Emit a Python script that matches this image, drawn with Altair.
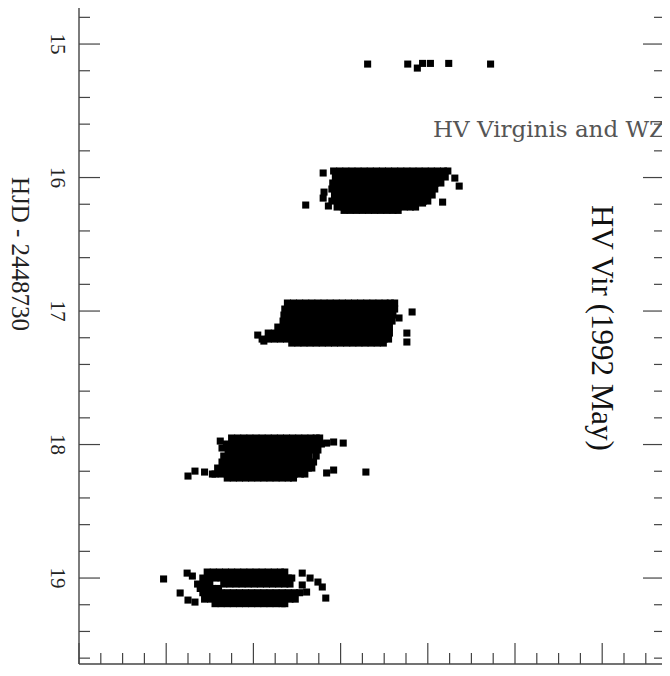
import altair as alt
import pandas as pd

# ---------------- axis tick values ----------------
y_major = [15, 16, 17, 18, 19]
y_major_labels = ["15", "16", "17", "18", "19"]
y_minor = [14.8, 15.2, 15.4, 15.6, 15.8, 16.2, 16.4, 16.6, 16.8, 17.2, 17.4,
           17.6, 17.8, 18.2, 18.4, 18.6, 18.8, 19.2, 19.4, 19.6]
x_major = [0, 1, 2, 3, 4, 5, 6]
x_minor = [0.25, 0.5, 0.75, 1.25, 1.5, 1.75, 2.25, 2.5, 2.75, 3.25, 3.5, 3.75,
           4.25, 4.5, 4.75, 5.25, 5.5, 5.75, 6.25, 6.5]

# ---------------- data ----------------
# night 1 (sparse)
n1_x = [3.31, 3.77, 3.88, 3.94, 4.03, 4.24, 4.72]
n1_hjd = [15.150, 15.150, 15.180, 15.145, 15.145, 15.145, 15.150]

# night 2
n2_row_hjd = [15.951, 15.996, 16.041, 16.086, 16.131, 16.176, 16.221, 16.246]
n2_row_x = [
    [2.92, 2.99, 3.06, 3.13, 3.20, 3.27, 3.34, 3.41, 3.48, 3.55, 3.62, 3.69, 3.76, 3.83, 3.90, 3.97, 4.04, 4.11, 4.18, 4.23],
    [2.94, 3.01, 3.08, 3.15, 3.22, 3.29, 3.36, 3.43, 3.50, 3.57, 3.64, 3.71, 3.78, 3.85, 3.92, 3.99, 4.06, 4.13, 4.20],
    [2.91, 2.98, 3.05, 3.12, 3.19, 3.26, 3.33, 3.40, 3.47, 3.54, 3.61, 3.68, 3.75, 3.82, 3.89, 3.96, 4.03, 4.09, 4.15],
    [2.90, 2.97, 3.04, 3.11, 3.18, 3.25, 3.32, 3.39, 3.46, 3.53, 3.60, 3.67, 3.74, 3.81, 3.88, 3.95, 4.02, 4.08],
    [2.93, 3.00, 3.07, 3.14, 3.21, 3.28, 3.35, 3.42, 3.49, 3.56, 3.63, 3.70, 3.77, 3.84, 3.91, 3.98, 4.05],
    [2.90, 2.97, 3.04, 3.11, 3.18, 3.25, 3.32, 3.39, 3.46, 3.53, 3.60, 3.67, 3.74, 3.81, 3.88, 3.95, 4.00],
    [2.96, 3.03, 3.10, 3.17, 3.24, 3.31, 3.38, 3.45, 3.52, 3.59, 3.66, 3.73, 3.80, 3.86],
    [3.04, 3.11, 3.18, 3.25, 3.32, 3.39, 3.46, 3.53, 3.60, 3.66],
]
n2_out_x = [2.60, 2.80, 2.81, 2.80, 2.86, 4.31, 4.36, 4.17, 3.94]
n2_out_hjd = [16.206, 15.966, 16.109, 16.154, 16.213, 16.004, 16.064, 16.184, 16.191]

# night 3
n3_row_hjd = [16.940, 16.985, 17.030, 17.075, 17.120, 17.165, 17.210, 17.240]
n3_row_x = [
    [2.39, 2.46, 2.53, 2.60, 2.67, 2.74, 2.81, 2.88, 2.95, 3.02, 3.09, 3.16, 3.23, 3.30, 3.37, 3.44, 3.51, 3.57, 3.62],
    [2.36, 2.43, 2.50, 2.57, 2.64, 2.71, 2.78, 2.85, 2.92, 2.99, 3.06, 3.13, 3.20, 3.27, 3.34, 3.41, 3.48, 3.55, 3.62],
    [2.35, 2.42, 2.49, 2.56, 2.63, 2.70, 2.77, 2.84, 2.91, 2.98, 3.05, 3.12, 3.19, 3.26, 3.33, 3.40, 3.47, 3.54, 3.60],
    [2.34, 2.41, 2.48, 2.55, 2.62, 2.69, 2.76, 2.83, 2.90, 2.97, 3.04, 3.11, 3.18, 3.25, 3.32, 3.39, 3.46, 3.53, 3.59],
    [2.28, 2.35, 2.42, 2.49, 2.56, 2.63, 2.70, 2.77, 2.84, 2.91, 2.98, 3.05, 3.12, 3.19, 3.26, 3.33, 3.40, 3.47, 3.53, 3.56],
    [2.17, 2.24, 2.31, 2.38, 2.45, 2.52, 2.59, 2.66, 2.73, 2.80, 2.87, 2.94, 3.01, 3.08, 3.15, 3.22, 3.29, 3.36, 3.43, 3.50, 3.56],
    [2.10, 2.17, 2.24, 2.31, 2.38, 2.45, 2.52, 2.59, 2.66, 2.73, 2.80, 2.87, 2.94, 3.01, 3.08, 3.15, 3.22, 3.29, 3.36, 3.43, 3.50, 3.55],
    [2.44, 2.51, 2.58, 2.65, 2.72, 2.79, 2.86, 2.93, 3.00, 3.07, 3.14, 3.21, 3.28, 3.35, 3.42, 3.49],
]
n3_out_x = [2.05, 2.12, 3.82, 3.67, 3.76, 3.76]
n3_out_hjd = [17.180, 17.225, 17.007, 17.052, 17.165, 17.232]

# night 4
n4_row_hjd = [17.951, 17.996, 18.041, 18.086, 18.131, 18.176, 18.221, 18.251]
n4_row_x = [
    [1.75, 1.82, 1.89, 1.96, 2.03, 2.10, 2.17, 2.24, 2.31, 2.38, 2.45, 2.52, 2.59, 2.66, 2.72, 2.76],
    [1.69, 1.76, 1.83, 1.90, 1.97, 2.04, 2.11, 2.18, 2.25, 2.32, 2.39, 2.46, 2.53, 2.60, 2.67, 2.73, 2.78],
    [1.71, 1.78, 1.85, 1.92, 1.99, 2.06, 2.13, 2.20, 2.27, 2.34, 2.41, 2.48, 2.55, 2.62, 2.68, 2.74],
    [1.66, 1.73, 1.80, 1.87, 1.94, 2.01, 2.08, 2.15, 2.22, 2.29, 2.36, 2.43, 2.50, 2.57, 2.64, 2.72],
    [1.64, 1.71, 1.78, 1.85, 1.92, 1.99, 2.06, 2.13, 2.20, 2.27, 2.34, 2.41, 2.48, 2.55, 2.62, 2.69],
    [1.59, 1.66, 1.73, 1.80, 1.87, 1.94, 2.01, 2.08, 2.15, 2.22, 2.29, 2.36, 2.43, 2.50, 2.57, 2.63, 2.67],
    [1.56, 1.63, 1.70, 1.77, 1.84, 1.91, 1.98, 2.05, 2.12, 2.19, 2.26, 2.33, 2.40, 2.47, 2.54, 2.59],
    [1.70, 1.77, 1.84, 1.91, 1.98, 2.05, 2.12, 2.19, 2.26, 2.33, 2.40, 2.46],
]
n4_out_x = [1.25, 1.33, 1.44, 1.53, 2.84, 2.92, 3.03, 2.84, 2.92, 3.29, 1.62, 1.64]
n4_out_hjd = [18.236, 18.199, 18.206, 18.221, 17.989, 17.981, 17.989, 18.213, 18.191, 18.206, 17.974, 18.026]

# night 5
n5_row_hjd = [18.955, 19.000, 19.045, 19.078, 19.110, 19.158, 19.192]
n5_row_x = [
    [1.47, 1.54, 1.61, 1.68, 1.75, 1.82, 1.89, 1.96, 2.03, 2.10, 2.17, 2.24, 2.31, 2.36],
    [1.42, 1.49, 1.56, 1.63, 1.70, 1.77, 1.84, 1.91, 1.98, 2.05, 2.12, 2.19, 2.26, 2.33, 2.40, 2.44],
    [1.36, 1.43, 1.50, 1.66, 1.73, 1.80, 1.87, 1.94, 2.01, 2.08, 2.15, 2.22, 2.29, 2.36, 2.42],
    [1.39, 1.46, 1.53, 1.60],
    [1.42, 1.49, 1.56, 1.63, 1.70, 1.77, 1.84, 1.91, 1.98, 2.05, 2.12, 2.19, 2.26, 2.33, 2.40, 2.47, 2.53],
    [1.44, 1.51, 1.58, 1.65, 1.72, 1.79, 1.86, 1.93, 2.00, 2.07, 2.14, 2.21, 2.28, 2.35, 2.42, 2.48],
    [1.56, 1.63, 1.70, 1.77, 1.84, 1.91, 1.98, 2.05, 2.12, 2.19, 2.26, 2.33, 2.36],
]
n5_out_x = [0.97, 1.24, 1.30, 1.16, 1.25, 1.33, 2.56, 2.65, 2.74, 2.79, 2.56, 2.83, 2.61]
n5_out_hjd = [19.007, 18.963, 18.985, 19.112, 19.165, 19.180, 18.963, 19.000, 19.030, 19.067, 19.052, 19.150, 19.105]

# ---------------- build table ----------------
recs = []
for xv, hv in zip(n1_x, n1_hjd):
    recs.append({"x": xv, "hjd": hv})
for row_hjd, row_x, out_x, out_h in [
    (n2_row_hjd, n2_row_x, n2_out_x, n2_out_hjd),
    (n3_row_hjd, n3_row_x, n3_out_x, n3_out_hjd),
    (n4_row_hjd, n4_row_x, n4_out_x, n4_out_hjd),
    (n5_row_hjd, n5_row_x, n5_out_x, n5_out_hjd),
]:
    for hv, xs_ in zip(row_hjd, row_x):
        for xv in xs_:
            recs.append({"x": xv, "hjd": hv})
    for xv, hv in zip(out_x, out_h):
        recs.append({"x": xv, "hjd": hv})
pts_df = pd.DataFrame(recs)

W, H = 583, 656
SERIF = "Liberation Serif"
AX = "#444444"

xs = alt.Scale(domain=[0, W / 87.2], nice=False, zero=False)
ys = alt.Scale(domain=[14.73, 14.73 + H / 133.5], nice=False, zero=False, reverse=True)

points = alt.Chart(pts_df).mark_square(size=50, color="black", opacity=1).encode(
    x=alt.X("x:Q", scale=xs, axis=None),
    y=alt.Y("hjd:Q", scale=ys, axis=None),
)

ymaj_df = pd.DataFrame({"hjd": y_major, "lab": y_major_labels})
ymin_df = pd.DataFrame({"hjd": y_minor})
xmaj_df = pd.DataFrame({"x": x_major})
xmin_df = pd.DataFrame({"x": x_minor})

def yticks(df, x0, x1):
    return alt.Chart(df).mark_rule(color=AX, strokeWidth=1.2).encode(
        y=alt.Y("hjd:Q", scale=ys, axis=None), x=alt.value(x0), x2=alt.value(x1))

def xticks(df, length):
    return alt.Chart(df).mark_rule(color=AX, strokeWidth=1.2).encode(
        x=alt.X("x:Q", scale=xs, axis=None), y=alt.value(H), y2=alt.value(H - length))

ylabels = alt.Chart(ymaj_df).mark_text(
    angle=90, align="center", baseline="alphabetic", font=SERIF, fontSize=21, color="#222222"
).encode(y=alt.Y("hjd:Q", scale=ys, axis=None), x=alt.value(-28), text="lab:N")

one = pd.DataFrame({"k": [0]})
left_line = alt.Chart(one).mark_rule(color=AX, strokeWidth=1.4).encode(
    x=alt.value(0), y=alt.value(0), y2=alt.value(H))
bottom_line = alt.Chart(one).mark_rule(color=AX, strokeWidth=1.4).encode(
    x=alt.value(0), x2=alt.value(W), y=alt.value(H))

ytitle_df = pd.DataFrame({"label": ["HJD - 2448730"]})
ytitle = alt.Chart(ytitle_df).mark_text(
    angle=90, align="center", baseline="alphabetic", font=SERIF, fontSize=25, color="#222222"
).encode(x=alt.value(-67), y=alt.value(246), text="label:N")

head_df = pd.DataFrame({"label": ["HV Virginis and WZ"]})
head = alt.Chart(head_df).mark_text(
    align="left", baseline="alphabetic", font="DejaVu Serif", fontSize=23, color="#555555"
).encode(x=alt.value(354), y=alt.value(129), text="label:N")

side_df = pd.DataFrame({"label": ["HV Vir (1992 May)"]})
side = alt.Chart(side_df).mark_text(
    align="center", baseline="alphabetic", font=SERIF, fontSize=31, color="#111111", angle=90
).encode(x=alt.value(513), y=alt.value(320), text="label:N")

chart = alt.layer(
    points,
    yticks(ymaj_df, 0, 21), yticks(ymin_df, 0, 11),
    yticks(ymaj_df, W - 19, W), yticks(ymin_df, W - 8, W),
    xticks(xmaj_df, 21), xticks(xmin_df, 11),
    left_line, bottom_line, ylabels, ytitle, head, side,
).properties(
    width=W, height=H, autosize="none",
    padding={"left": 71, "top": 0, "right": 0, "bottom": 1},
    background="white",
).configure_view(stroke=None)

chart.save("out.html", embed_options={"renderer": "svg", "actions": False})
